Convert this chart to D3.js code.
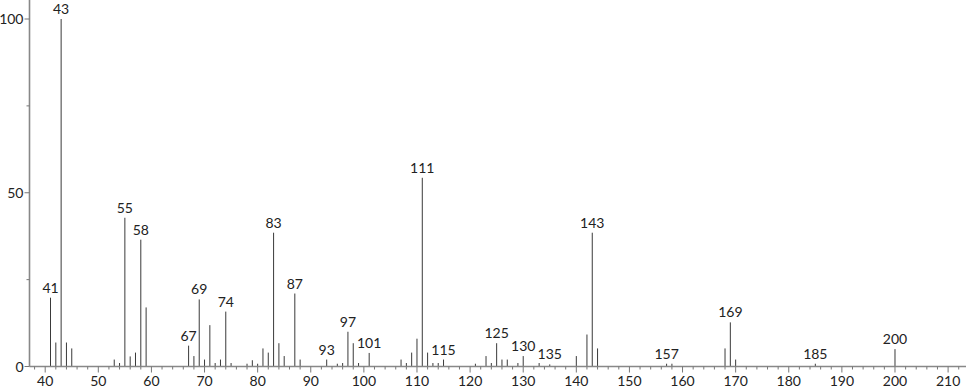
<!DOCTYPE html>
<html>
<head>
<meta charset="utf-8">
<script src="https://cdn.jsdelivr.net/npm/d3@7"></script>
<style>
  body { margin: 0; background: #fff; }
  text { font-family: Lato, "DejaVu Sans", sans-serif; fill: #222; }
</style>
</head>
<body>
<div class="chart"></div>
<script>
var svgWidth = 966;
var svgHeight = 389;

// m/z values and relative intensities
var masses = [41, 42, 43, 44, 45, 53, 54, 55, 56, 57, 58, 59, 67, 68, 69, 70, 71, 72, 73, 74, 75,
  78, 79, 80, 81, 82, 83, 84, 85, 87, 88, 93, 95, 96, 97, 98, 99, 101, 107, 108, 109, 110, 111,
  112, 113, 114, 115, 121, 123, 124, 125, 126, 127, 129, 130, 133, 135, 140, 142, 143, 144,
  157, 158, 168, 169, 170, 185, 200];
var intensities = [19.8, 6.9, 100, 6.9, 5.2, 2, 1, 42.8, 2.9, 4, 36.5, 17, 6, 3, 19.3, 2, 11.9, 1, 2, 15.8, 1,
  0.8, 1.8, 0.8, 5.2, 4, 38.5, 6.7, 3, 21, 2, 2, 0.8, 1, 10, 6.7, 1, 3.9, 2, 1, 4, 8, 54.3,
  4, 1, 1, 2, 0.8, 3, 1, 6.7, 2, 2, 1, 3, 1, 0.6, 3, 9.2, 38.5, 5.2,
  0.8, 0.8, 5.2, 12.7, 2, 0.8, 5];
var labeled = [41, 43, 55, 58, 67, 69, 74, 83, 87, 93, 97, 101, 111, 115, 125, 130, 135, 143, 157, 169, 185, 200];

var xMajor = d3.range(40, 211, 10);
var xMinor = d3.range(38, 214, 2);
var yMajor = [0, 50, 100];
var yMinor = [25, 75];

var data = masses.map(function(m, i) { return { mz: m, ab: intensities[i] }; });

var svg = d3.select(".chart")
  .append("svg")
  .attr("width", svgWidth)
  .attr("height", svgHeight);

var xScale = d3.scaleLinear()
  .domain([40, 210])
  .range([45.2, 948.1]);

var yScale = d3.scaleLinear()
  .domain([0, 100])
  .range([366.5, 19]);

var axisX = 29.5;

// Peaks
svg.selectAll("line.peak")
  .data(data)
  .enter()
  .append("line")
  .attr("class", "peak")
  .attr("x1", d => xScale(d.mz))
  .attr("x2", d => xScale(d.mz))
  .attr("y1", yScale(0))
  .attr("y2", d => yScale(d.ab))
  .attr("stroke", "#3a3a3a")
  .attr("stroke-width", 1);

// Peak labels
svg.selectAll("text.lab")
  .data(data.filter(d => labeled.indexOf(d.mz) >= 0))
  .enter()
  .append("text")
  .attr("class", "lab")
  .attr("x", d => xScale(d.mz))
  .attr("y", d => yScale(d.ab) - 5)
  .attr("text-anchor", "middle")
  .attr("font-size", "14px")
  .text(d => d.mz);

// X axis
var gx = svg.append("g");
gx.append("line")
  .attr("x1", axisX).attr("x2", svgWidth)
  .attr("y1", yScale(0)).attr("y2", yScale(0))
  .attr("stroke", "#888").attr("stroke-width", 1.3);

gx.selectAll("line.minor")
  .data(xMinor.filter(v => xScale(v) > axisX))
  .enter()
  .append("line")
  .attr("x1", d => xScale(d)).attr("x2", d => xScale(d))
  .attr("y1", yScale(0)).attr("y2", d => yScale(0) + (d % 10 === 0 ? 6 : 3))
  .attr("stroke", "#777");

gx.selectAll("text")
  .data(xMajor)
  .enter()
  .append("text")
  .attr("x", d => xScale(d))
  .attr("y", 386)
  .attr("text-anchor", "middle")
  .attr("font-size", "14px")
  .text(d => d);

// Y axis
var gy = svg.append("g");
gy.append("line")
  .attr("x1", axisX).attr("x2", axisX)
  .attr("y1", 0).attr("y2", yScale(0))
  .attr("stroke", "#888").attr("stroke-width", 1.6);

gy.selectAll("line.tick")
  .data(yMajor.concat(yMinor))
  .enter()
  .append("line")
  .attr("x1", axisX).attr("x2", d => yMajor.indexOf(d) >= 0 ? axisX - 5 : axisX - 3)
  .attr("y1", d => yScale(d)).attr("y2", d => yScale(d))
  .attr("stroke", "#777");

gy.selectAll("text")
  .data(yMajor)
  .enter()
  .append("text")
  .attr("x", axisX - 6)
  .attr("y", d => yScale(d) + 5)
  .attr("text-anchor", "end")
  .attr("font-size", "14px")
  .text(d => d);
</script>
</body>
</html>
